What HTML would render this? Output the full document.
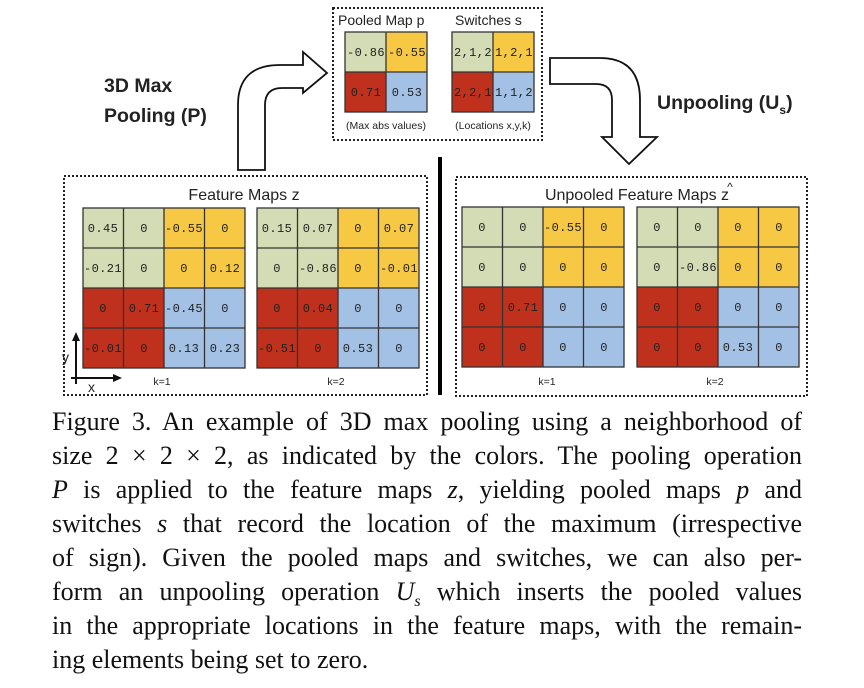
<!DOCTYPE html>
<html><head><meta charset="utf-8"><style>
body{margin:0;background:#fff;width:864px;height:688px;overflow:hidden;position:relative}
svg{position:absolute;left:0;top:0}
.cap{position:absolute;left:52px;width:750px;font-family:"Liberation Serif",serif;font-size:26px;line-height:34px;color:#111;text-align:justify;text-align-last:justify;white-space:nowrap}
.m{font-family:"Liberation Mono",monospace;font-size:12px;letter-spacing:0.4px;fill:#222;text-anchor:middle}
.s{font-family:"Liberation Sans",sans-serif;fill:#222}
</style></head><body>
<svg width="864" height="688" viewBox="0 0 864 688">
<defs>
<g id="q">
<rect x="0" y="0" width="81" height="80" fill="#d3dcb4"/>
<rect x="81" y="0" width="81" height="80" fill="#f7c843"/>
<rect x="0" y="80" width="81" height="80" fill="#bf311d"/>
<rect x="81" y="80" width="81" height="80" fill="#a3c1e4"/>
<g stroke="#333" stroke-width="1.3" fill="none">
<rect x="0" y="0" width="162" height="160"/>
<line x1="40.5" y1="0" x2="40.5" y2="160"/><line x1="81" y1="0" x2="81" y2="160"/><line x1="121.5" y1="0" x2="121.5" y2="160"/>
<line x1="0" y1="40" x2="162" y2="40"/><line x1="0" y1="80" x2="162" y2="80"/><line x1="0" y1="120" x2="162" y2="120"/>
</g></g>
<g id="p">
<rect x="0" y="0" width="41" height="40" fill="#d3dcb4"/>
<rect x="41" y="0" width="41" height="40" fill="#f7c843"/>
<rect x="0" y="40" width="41" height="40" fill="#bf311d"/>
<rect x="41" y="40" width="41" height="40" fill="#a3c1e4"/>
<g stroke="#333" stroke-width="1.3" fill="none"><rect x="0" y="0" width="82" height="80"/><line x1="41" y1="0" x2="41" y2="80"/><line x1="0" y1="40" x2="82" y2="40"/></g>
</g>
</defs>
<g fill="none" stroke="#222" stroke-width="2" stroke-dasharray="2,2">
<rect x="333" y="8" width="209" height="132"/>
<rect x="64" y="176" width="363" height="219"/>
<rect x="456" y="177" width="351" height="219"/>
</g>
<rect x="438" y="157" width="4" height="238" fill="#000"/>
<path d="M238,170 L238,105 Q238,65 280,65 L303,65 L303,52 L327,73 L303,93 L303,88 L282,88 Q265,88 265,105 L265,170 Z" fill="#fff" stroke="#111" stroke-width="1.8"/>
<path d="M550,58 L600,58 Q640,58 640,100 L640,137 L657,137 L629,164 L602,137 L612,137 L612,100 Q612,84 596,84 L550,84 Z" fill="#fff" stroke="#111" stroke-width="1.8"/>
<text class="s" x="104" y="92" font-size="19.5" font-weight="bold">3D Max</text>
<text class="s" x="104" y="122" font-size="19.5" font-weight="bold">Pooling (P)</text>
<text class="s" x="657" y="109" font-size="19.5" font-weight="bold">Unpooling (U<tspan font-size="12" dy="5">s</tspan><tspan dy="-5">)</tspan></text>
<text class="s" x="338" y="25" font-size="14">Pooled Map p</text>
<text class="s" x="455" y="25" font-size="14">Switches  s</text>
<use href="#p" x="345" y="32"/><use href="#p" x="452" y="32"/>
<g class="m"><text x="366" y="56">-0.86</text><text x="407" y="56">-0.55</text><text x="366" y="96">0.71</text><text x="407" y="96">0.53</text>
<text x="473" y="56">2,1,2</text><text x="514" y="56">1,2,1</text><text x="473" y="96">2,2,1</text><text x="514" y="96">1,1,2</text></g>
<text class="s" x="386" y="129" font-size="10.5" text-anchor="middle">(Max abs values)</text>
<text class="s" x="493" y="129" font-size="10.5" text-anchor="middle">(Locations x,y,k)</text>
<text class="s" x="244" y="200" font-size="16" text-anchor="middle">Feature Maps z</text>
<use href="#q" x="83" y="208"/><use href="#q" x="257" y="208"/>
<g class="m">
<text x="103" y="232">0.45</text><text x="144" y="232">0</text><text x="184" y="232">-0.55</text><text x="225" y="232">0</text>
<text x="103" y="272">-0.21</text><text x="144" y="272">0</text><text x="184" y="272">0</text><text x="225" y="272">0.12</text>
<text x="103" y="312">0</text><text x="144" y="312">0.71</text><text x="184" y="312">-0.45</text><text x="225" y="312">0</text>
<text x="103" y="352">-0.01</text><text x="144" y="352">0</text><text x="184" y="352">0.13</text><text x="225" y="352">0.23</text>
<text x="277" y="232">0.15</text><text x="318" y="232">0.07</text><text x="358" y="232">0</text><text x="399" y="232">0.07</text>
<text x="277" y="272">0</text><text x="318" y="272">-0.86</text><text x="358" y="272">0</text><text x="399" y="272">-0.01</text>
<text x="277" y="312">0</text><text x="318" y="312">0.04</text><text x="358" y="312">0</text><text x="399" y="312">0</text>
<text x="277" y="352">-0.51</text><text x="318" y="352">0</text><text x="358" y="352">0.53</text><text x="399" y="352">0</text>
</g>
<text class="s" x="162" y="385" font-size="10.5" text-anchor="middle">k=1</text>
<text class="s" x="336" y="385" font-size="10.5" text-anchor="middle">k=2</text>
<g stroke="#111" stroke-width="2" fill="none"><line x1="76" y1="384" x2="76" y2="336"/><line x1="71" y1="378" x2="118" y2="378"/></g>
<path d="M76,332 L72,341 L80,341 Z M122,378 L113,374 L113,382 Z" fill="#111"/>
<text class="s" x="62" y="362" font-size="14">y</text>
<text class="s" x="88" y="392" font-size="14">x</text>
<text class="s" x="637" y="200" font-size="16" text-anchor="middle">Unpooled Feature Maps z</text>
<text class="s" x="730" y="191" font-size="12" text-anchor="middle">^</text>
<use href="#q" x="462" y="207"/><use href="#q" x="637" y="207"/>
<g class="m">
<text x="482" y="231">0</text><text x="523" y="231">0</text><text x="563" y="231">-0.55</text><text x="604" y="231">0</text>
<text x="482" y="271">0</text><text x="523" y="271">0</text><text x="563" y="271">0</text><text x="604" y="271">0</text>
<text x="482" y="311">0</text><text x="523" y="311">0.71</text><text x="563" y="311">0</text><text x="604" y="311">0</text>
<text x="482" y="351">0</text><text x="523" y="351">0</text><text x="563" y="351">0</text><text x="604" y="351">0</text>
<text x="657" y="231">0</text><text x="698" y="231">0</text><text x="738" y="231">0</text><text x="779" y="231">0</text>
<text x="657" y="271">0</text><text x="698" y="271">-0.86</text><text x="738" y="271">0</text><text x="779" y="271">0</text>
<text x="657" y="311">0</text><text x="698" y="311">0</text><text x="738" y="311">0</text><text x="779" y="311">0</text>
<text x="657" y="351">0</text><text x="698" y="351">0</text><text x="738" y="351">0.53</text><text x="779" y="351">0</text>
</g>
<text class="s" x="547" y="385" font-size="10.5" text-anchor="middle">k=1</text>
<text class="s" x="715" y="385" font-size="10.5" text-anchor="middle">k=2</text>
</svg>
<div class="cap" style="top:405px">Figure 3. An example of 3D max pooling using a neighborhood of</div>
<div class="cap" style="top:439px">size 2 × 2 × 2, as indicated by the colors. The pooling operation</div>
<div class="cap" style="top:473px"><i>P</i> is applied to the feature maps <i>z</i>, yielding pooled maps <i>p</i> and</div>
<div class="cap" style="top:507px">switches <i>s</i> that record the location of the maximum (irrespective</div>
<div class="cap" style="top:541px">of sign). Given the pooled maps and switches, we can also per-</div>
<div class="cap" style="top:575px">form an unpooling operation <i>U<sub style="font-size:16px;line-height:0">s</sub></i> which inserts the pooled values</div>
<div class="cap" style="top:609px">in the appropriate locations in the feature maps, with the remain-</div>
<div class="cap" style="top:643px;text-align-last:left">ing elements being set to zero.</div>
</body></html>
